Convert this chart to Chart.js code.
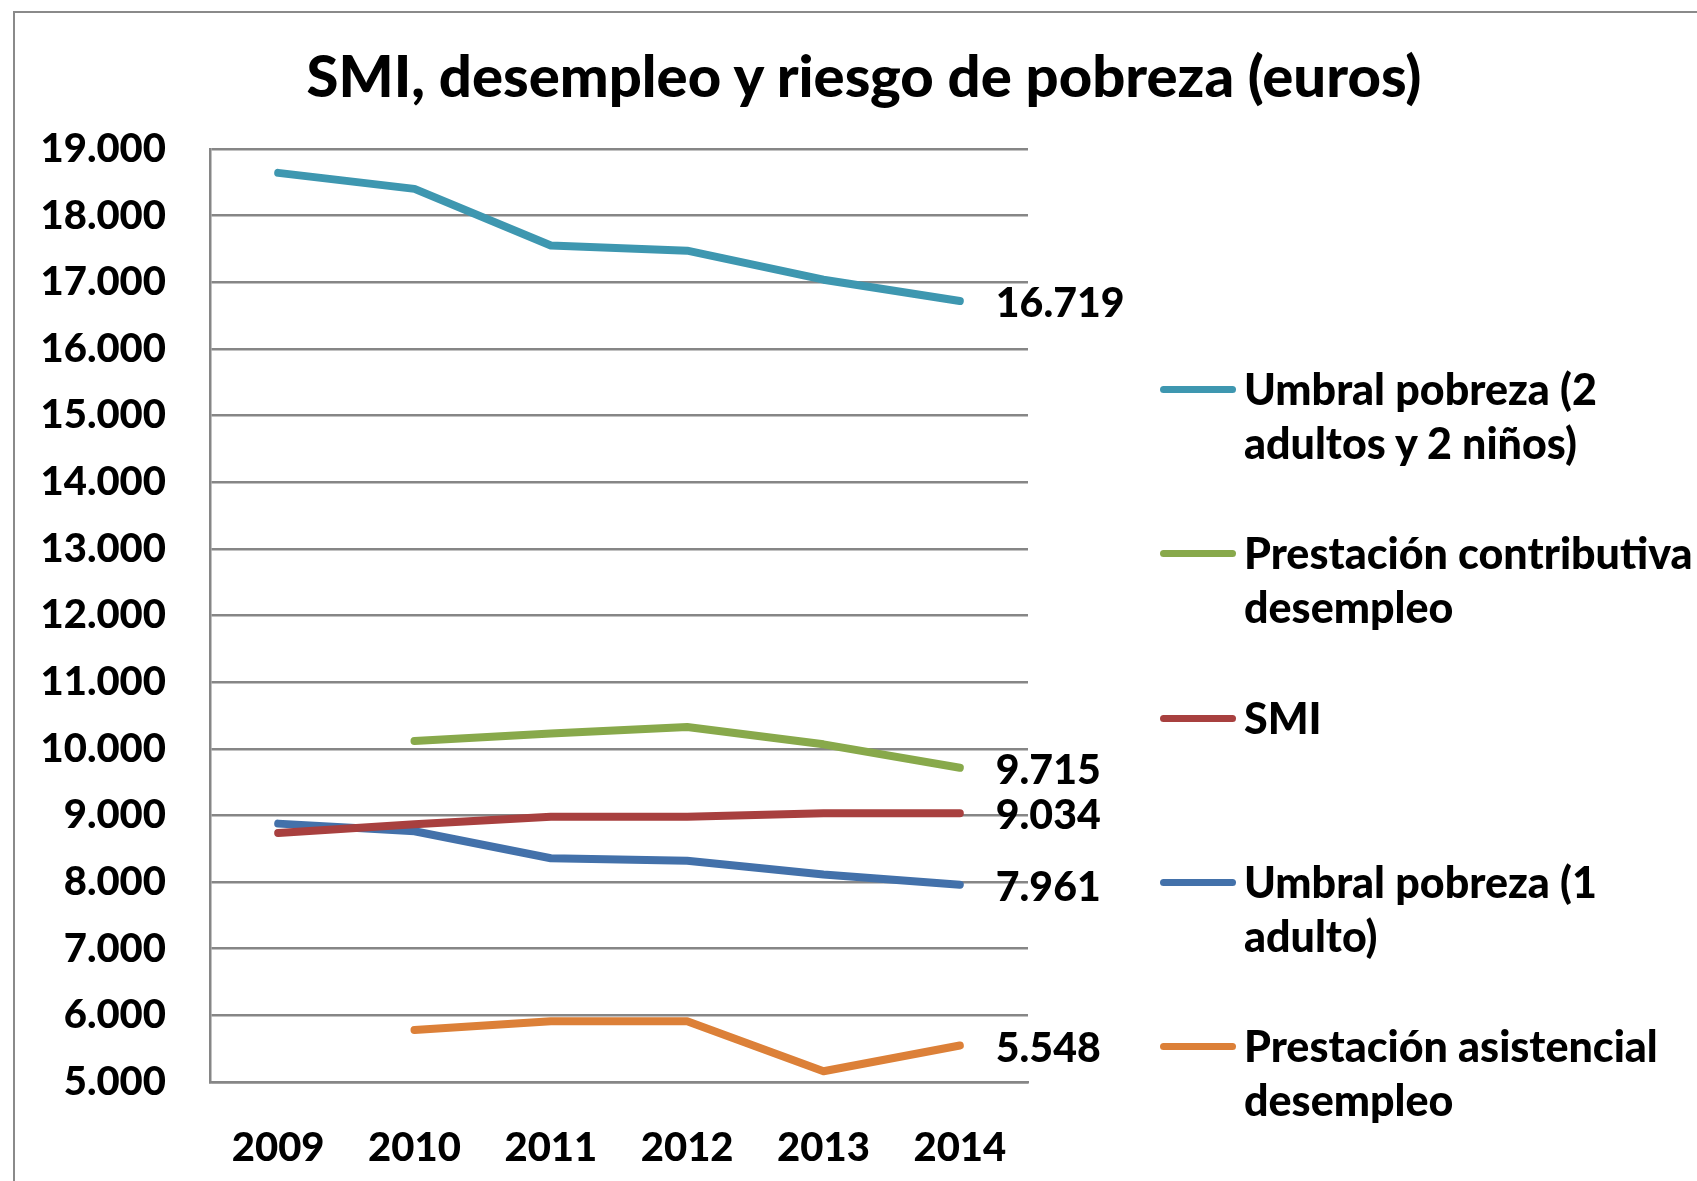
<!DOCTYPE html>
<html>
<head>
<meta charset="utf-8">
<script src="https://cdn.jsdelivr.net/npm/chart.js"></script>
<style>
  html, body { margin: 0; padding: 0; background: #fff; overflow: hidden; }
  body { width: 1697px; height: 1181px; position: relative; font-family: Lato, "Open Sans", sans-serif; }
  #frame { position: absolute; left: 13px; top: 11px; width: 1800px; height: 1300px; border: 2.5px solid #8a8a8a; box-sizing: border-box; }
  #chart { position: absolute; left: 0; top: 0; }
  #title { position: absolute; left: 0; width: 1728px; top: 40px; text-align: center; font-weight: 900; font-size: 58px; color: #000; white-space: nowrap; }
  #legend { position: absolute; left: 1160px; top: 0; }
  .item { position: absolute; left: 0; white-space: nowrap; }
  .swatch { position: absolute; left: 0; width: 76px; height: 7px; border-radius: 4px; }
  .label { position: absolute; left: 84px; font-weight: 900; font-size: 43px; line-height: 54px; color: #000; }
</style>
</head>
<body>
<div id="frame"></div>
<canvas id="chart" width="1697" height="1181"></canvas>
<div id="title">SMI, desempleo y riesgo de pobreza (euros)</div>
<div id="legend"></div>
<script>
const years = ['2009', '2010', '2011', '2012', '2013', '2014'];

const umbral2a2n = [18642, 18402, 17552, 17474, 17039, 16719];
const contributiva = [null, 10116, 10230, 10327, 10067, 9715];
const smi = [8736, 8866, 8980, 8980, 9034, 9034];
const umbral1a = [8877, 8763, 8358, 8321, 8114, 7961];
const asistencial = [null, 5780, 5910, 5910, 5162, 5548];

const seriesNames = [
    ['Umbral pobreza (2', 'adultos y 2 niños)'],
    ['Prestación contributiva', 'desempleo'],
    ['SMI'],
    ['Umbral pobreza (1', 'adulto)'],
    ['Prestación asistencial', 'desempleo']
];
const seriesValues = [umbral2a2n, contributiva, smi, umbral1a, asistencial];
const seriesColors = ['#3E97B0', '#88A94B', '#A8403F', '#4371AA', '#DC8038'];

const yMin = 5000, yMax = 19000, yStep = 1000;

function fmt(v) {
    return String(v).replace(/\B(?=(\d{3})+(?!\d))/g, '.');
}

// legend built from the series arrays
const legendTops = [390, 554, 719, 883, 1047];
const legend = document.getElementById('legend');
seriesNames.forEach((name, i) => {
    const item = document.createElement('div');
    item.className = 'item';
    item.style.top = legendTops[i] + 'px';
    const sw = document.createElement('div');
    sw.className = 'swatch';
    sw.style.background = seriesColors[i];
    sw.style.top = '-4px';
    const lb = document.createElement('div');
    lb.className = 'label';
    lb.style.top = '-28px';
    lb.innerHTML = name.join('<br>');
    item.appendChild(sw);
    item.appendChild(lb);
    legend.appendChild(item);
});

// value label at the last point of each line
const lastLabels = {
    id: 'lastLabels',
    afterDatasetsDraw(chart) {
        const ctx = chart.ctx;
        ctx.save();
        ctx.font = '900 41px Lato, "Open Sans", sans-serif';
        ctx.fillStyle = '#000';
        ctx.textAlign = 'left';
        ctx.textBaseline = 'middle';
        chart.data.datasets.forEach((ds, i) => {
            const meta = chart.getDatasetMeta(i);
            const n = ds.data.length - 1;
            const pt = meta.data[n];
            ctx.fillText(fmt(ds.data[n]), pt.x + 36, pt.y + 3);
        });
        ctx.restore();
    }
};

const font = { family: 'Lato, "Open Sans", sans-serif', size: 40, weight: '900' };

new Chart(document.getElementById('chart'), {
    type: 'line',
    data: {
        labels: years,
        datasets: seriesNames.map((name, i) => ({
            label: name.join(' '),
            data: seriesValues[i],
            borderColor: seriesColors[i],
            backgroundColor: seriesColors[i],
            borderWidth: 8,
            borderCapStyle: 'round',
            borderJoinStyle: 'round',
            pointRadius: 0,
            tension: 0
        }))
    },
    options: {
        responsive: false,
        animation: false,
        layout: { padding: { top: 149, right: 669, bottom: 0, left: 0 } },
        plugins: {
            legend: { display: false },
            tooltip: { enabled: false },
            title: { display: false }
        },
        scales: {
            x: {
                offset: true,
                grid: { display: false },
                border: { display: true, color: '#868686', width: 2.5 },
                ticks: { color: '#000', font: font, padding: 34, maxRotation: 0 },
                afterFit: (s) => { s.height = 99; }
            },
            y: {
                min: yMin,
                max: yMax,
                grid: { color: '#868686', lineWidth: 2.5, drawTicks: false },
                border: { display: true, color: '#868686', width: 2.5 },
                ticks: {
                    stepSize: yStep,
                    color: '#000',
                    font: font,
                    padding: 44,
                    callback: (v) => fmt(v)
                },
                afterFit: (s) => { s.width = 210; }
            }
        }
    },
    plugins: [lastLabels]
});
</script>
</body>
</html>
